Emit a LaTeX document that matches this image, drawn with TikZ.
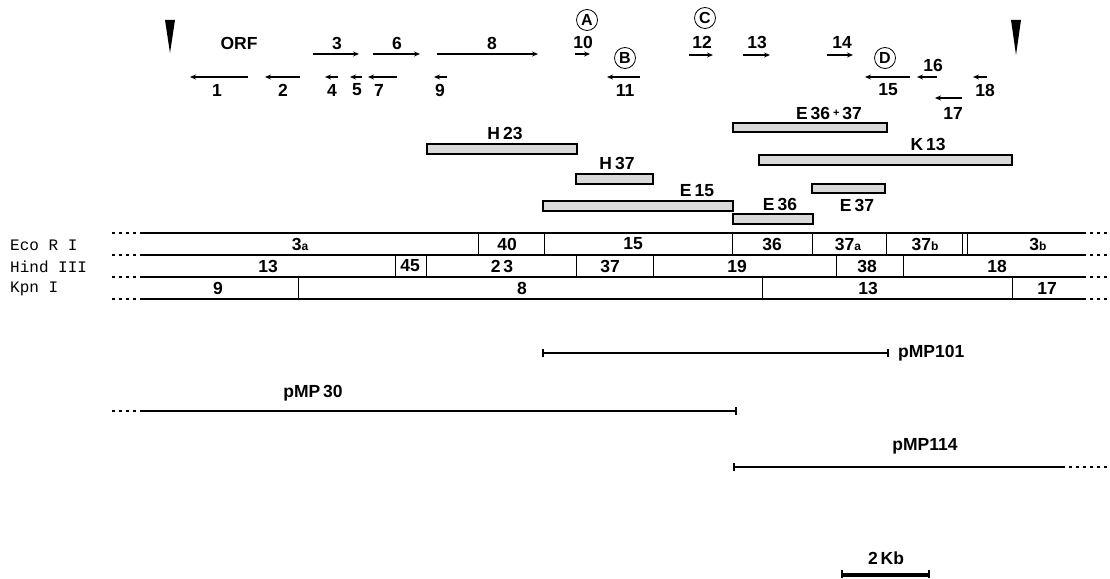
\documentclass[tikz,border=0pt]{standalone}
\usepackage{fontspec}
\setmainfont{Liberation Sans}
\setmonofont{Liberation Mono}
\usetikzlibrary{arrows.meta}
\newcommand{\sm}[1]{{\fontsize{12}{12}\selectfont #1}}
\begin{document}
\begin{tikzpicture}[x=1pt,y=-1pt,
  lbl/.style={font=\fontsize{17.5}{17.5}\selectfont\bfseries, inner sep=0pt},
  rowlbl/.style={font=\fontsize{16}{16}\selectfont\ttfamily, anchor=west, inner sep=0pt},
  orf/.style={line width=1.3pt, -{Stealth[length=6pt,width=5pt]}},
  frag/.style={draw, line width=1.6pt, fill=gray!30},
  mapline/.style={line width=1.6pt},
  sep/.style={line width=0.9pt},
  ext/.style={line width=1.2pt, dash pattern=on 3pt off 4pt},
  circ/.style={circle, draw, line width=0.8pt, minimum size=21pt, inner sep=0pt, font=\fontsize{16}{16}\selectfont\bfseries},
  clone/.style={line width=1.8pt},
  tick/.style={line width=1.2pt},
]
\useasboundingbox (0,0) rectangle (1110,578);

% insertion-site arrowheads
\fill (165,20) -- (175,20) -- (170,53) -- cycle;
\fill (1011,20) -- (1021,20) -- (1016,55) -- cycle;

% ORF row
\node[lbl] (orf) at (239,43) {ORF};
% forward ORFs
\node[lbl] (l3) at (337,43) {3};   \draw[orf] (313,54) -- (359,54);
\node[lbl] (l6) at (397,43) {6};   \draw[orf] (373,54) -- (420,54);
\node[lbl] (l8) at (492,43) {8};   \draw[orf] (437,54) -- (538,54);
\node[lbl] (l10) at (583,42) {10}; \draw[orf] (575,54) -- (590,54);
\node[lbl] (l12) at (702,42) {12}; \draw[orf] (689,55) -- (713,55);
\node[lbl] (l13) at (757,42) {13}; \draw[orf] (743,55) -- (770,55);
\node[lbl] (l14) at (842,42) {14}; \draw[orf] (827,55) -- (853,55);
% reverse ORFs
\draw[orf] (248,77) -- (190,77); \node[lbl] (l1) at (217,90) {1};
\draw[orf] (300,77) -- (265,77); \node[lbl] (l2) at (283,90) {2};
\draw[orf] (338,77) -- (325,77); \node[lbl] (l4) at (332,90) {4};
\draw[orf] (362,77) -- (350,77); \node[lbl] (l5) at (357,90) {5};
\draw[orf] (397,77) -- (368,77); \node[lbl] (l7) at (379,90) {7};
\draw[orf] (447,77) -- (434,77); \node[lbl] (l9) at (440,90) {9};
\draw[orf] (640,77) -- (607,77); \node[lbl] (l11) at (625,90) {11};
\draw[orf] (910,77) -- (865,77); \node[lbl] (l15) at (888,90) {15};
\draw[orf] (937,77) -- (917,77); \node[lbl] (l16) at (933,65) {16};
\draw[orf] (987,77) -- (973,77); \node[lbl] (l18) at (985,90) {18};
\draw[orf] (962,98) -- (935,98); \node[lbl] (l17) at (953,113) {17};
% circled letters
\node[circ] (cA) at (587,20) {A};
\node[circ] (cB) at (625,58) {B};
\node[circ] (cC) at (705,18) {C};
\node[circ] (cD) at (885,58) {D};

% shaded fragments
\draw[frag] (733,123) rectangle (887,132); \node[lbl] (tE3637) at (829,113) {E\,36\,\raisebox{3pt}{\fontsize{11}{11}\selectfont+}\,37};
\draw[frag] (427,144) rectangle (577,154); \node[lbl] (tH23) at (505,133) {H\,23};
\draw[frag] (759,155) rectangle (1012,165); \node[lbl] (tK13) at (928,144) {K\,13};
\draw[frag] (576,174) rectangle (653,184); \node[lbl] (tH37) at (617,163) {H\,37};
\draw[frag] (812,184) rectangle (885,193); \node[lbl] (tE37) at (857,205) {E\,37};
\draw[frag] (543,201) rectangle (733,211); \node[lbl] (tE15) at (697,191) {E\,15};
\draw[frag] (733,214) rectangle (813,224); \node[lbl] (tE36) at (780,204) {E\,36};

% restriction map lines
\foreach \yy in {233,255,277,299} {
  \draw[mapline] (142,\yy) -- (1083,\yy);
  \draw[ext] (112,\yy) -- (142,\yy);
  \draw[ext] (1083,\yy) -- (1110,\yy);
}
% separators
\foreach \xx in {478,544,732,812,886,962,967} \draw[sep] (\xx,233) -- (\xx,255);
\foreach \xx in {395,426,576,653,836,903} \draw[sep] (\xx,255) -- (\xx,277);
\foreach \xx in {298,762,1012} \draw[sep] (\xx,277) -- (\xx,299);

% row names
\node[rowlbl] (rE) at (10,245) {Eco R I};
\node[rowlbl] (rH) at (10,267) {Hind III};
\node[rowlbl] (rK) at (10,289) {Kpn I};

% EcoRI fragments
\node[lbl] (e3a) at (300,244) {3\sm{a}};
\node[lbl] (e40) at (507,244) {40};
\node[lbl] (e15) at (633,244) {15};
\node[lbl] (e36) at (772,244) {36};
\node[lbl] (e37a) at (848,244) {37\sm{a}};
\node[lbl] (e37b) at (925,244) {37\sm{b}};
\node[lbl] (e3b) at (1038,244) {3\sm{b}};
% HindIII fragments
\node[lbl] (h13) at (268,266) {13};
\node[lbl] (h45) at (410,266) {45};
\node[lbl] (h23) at (502,266) {2\hspace{3pt}3};
\node[lbl] (h37) at (610,266) {37};
\node[lbl] (h19) at (737,266) {19};
\node[lbl] (h38) at (867,266) {38};
\node[lbl] (h18) at (997,266) {18};
% KpnI fragments
\node[lbl] (k9) at (218,288) {9};
\node[lbl] (k8) at (522,288) {8};
\node[lbl] (k13) at (868,288) {13};
\node[lbl] (k17) at (1047,288) {17};

% clones
\draw[clone] (543,353) -- (888,353);
\draw[tick] (543,349) -- (543,357); \draw[tick] (888,349) -- (888,357);
\node[lbl, anchor=base west] (p101) at (898,357) {pMP101};

\draw[ext] (112,411) -- (142,411);
\draw[clone] (142,411) -- (736,411);
\draw[tick] (736,407) -- (736,415);
\node[lbl, anchor=base] (p30) at (313,397) {pMP\,30};

\draw[clone] (734,467) -- (1062,467);
\draw[ext] (1062,467) -- (1110,467);
\draw[tick] (734,463) -- (734,471);
\node[lbl, anchor=base] (p114) at (925,450) {pMP114};

% scale bar
\node[lbl] (kb) at (886,558) {2\,Kb};
\draw[line width=4pt] (842,575) -- (929,575);
\draw[tick] (842,570) -- (842,578); \draw[tick] (929,570) -- (929,578);
\end{tikzpicture}
\end{document}
